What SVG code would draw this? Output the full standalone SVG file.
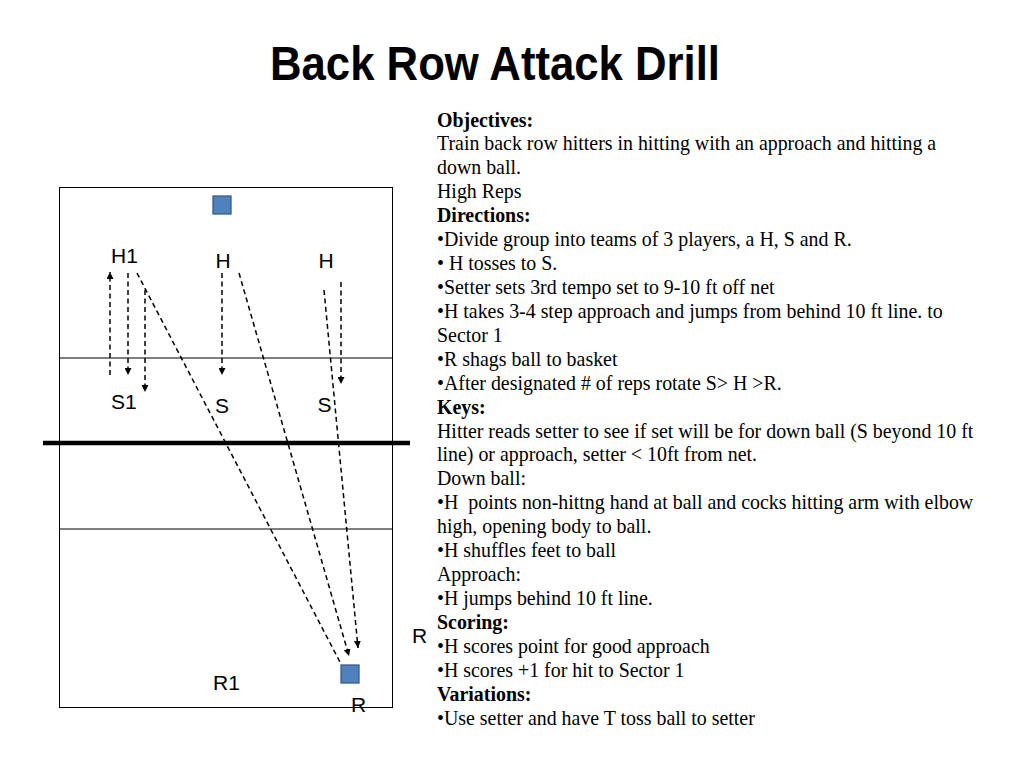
<svg xmlns="http://www.w3.org/2000/svg" width="1024" height="768" viewBox="0 0 1024 768">
<defs>
<marker id="ah" viewBox="0 0 10 10" refX="10" refY="5" markerWidth="7" markerHeight="7" markerUnits="userSpaceOnUse" orient="auto">
<path d="M0,0 L10,5 L0,10 z" fill="#000"/>
</marker>
<style>
.title{font-family:"Liberation Sans",Arial,sans-serif;font-weight:bold;font-size:48px;fill:#000}
.lbl{font-family:"Liberation Sans",Arial,sans-serif;font-size:21px;fill:#000}
.txt{font-family:"Liberation Serif","Times New Roman",serif;font-size:19.9px;fill:#000}
.b{font-weight:bold}
.court{fill:none;stroke:#000;stroke-width:1}
.dash{fill:none;stroke:#000;stroke-width:1.5;stroke-dasharray:5,3.5}
.arr{marker-end:url(#ah)}
.sq{fill:#4F81BD;stroke:#385D8A;stroke-width:1.3}
</style>
</defs>
<rect width="1024" height="768" fill="#fff"/>
<text class="title" x="495" y="80" text-anchor="middle" textLength="450" lengthAdjust="spacingAndGlyphs">Back Row Attack Drill</text>

<g id="court">
<rect class="court" x="59.5" y="187.5" width="333" height="520"/>
<line class="court" x1="59.5" y1="358" x2="392.5" y2="358" stroke="#333"/>
<line class="court" x1="59.5" y1="529" x2="392.5" y2="529" stroke="#333"/>
<line x1="43" y1="443" x2="410" y2="443" stroke="#000" stroke-width="4.5"/>
</g>

<g id="ball-top"><rect class="sq" x="213" y="196" width="18" height="18"/></g>
<g id="basket"><rect class="sq" x="341" y="665" width="18" height="18"/></g>

<g id="node-H1"><text class="lbl" x="111" y="263">H1</text></g>
<g id="node-H2"><text class="lbl" x="215.5" y="268">H</text></g>
<g id="node-H3"><text class="lbl" x="318.5" y="268">H</text></g>
<g id="node-S1"><text class="lbl" x="111" y="409">S1</text></g>
<g id="node-S2"><text class="lbl" x="215" y="413">S</text></g>
<g id="node-S3"><text class="lbl" x="317.5" y="412">S</text></g>
<g id="node-R-side"><text class="lbl" x="412" y="643">R</text></g>
<g id="node-R1"><text class="lbl" x="213" y="690">R1</text></g>
<g id="node-R"><text class="lbl" x="351" y="712">R</text></g>

<g id="connectors">
<line class="dash arr" x1="110" y1="375" x2="110" y2="272"/>
<line class="dash arr" x1="128" y1="273" x2="128" y2="375"/>
<line class="dash arr" x1="145" y1="290" x2="145" y2="392"/>
<line class="dash arr" x1="222" y1="273" x2="222" y2="375"/>
<line class="dash arr" x1="341" y1="282" x2="341" y2="384"/>
<line class="dash" x1="137" y1="273" x2="341" y2="664"/>
<line class="dash arr" x1="239" y1="273" x2="349" y2="656"/>
<line class="dash arr" x1="324" y1="290" x2="358" y2="648"/>
</g>

<g id="notes" class="txt">
<text x="437" y="126.5" class="b">Objectives:</text>
<text x="437" y="150.4">Train back row hitters in hitting with an approach and hitting a</text>
<text x="437" y="174.3">down ball.</text>
<text x="437" y="198.3">High Reps</text>
<text x="437" y="222.2" class="b">Directions:</text>
<text x="437" y="246.1">•Divide group into teams of 3 players, a H, S and R.</text>
<text x="437" y="270">• H tosses to S.</text>
<text x="437" y="294">•Setter sets 3rd tempo set to 9-10 ft off net</text>
<text x="437" y="317.9">•H takes 3-4 step approach and jumps from behind 10 ft line. to</text>
<text x="437" y="341.8">Sector 1</text>
<text x="437" y="365.7">•R shags ball to basket</text>
<text x="437" y="389.6">•After designated # of reps rotate S&gt; H &gt;R.</text>
<text x="437" y="413.5" class="b">Keys:</text>
<text x="437" y="437.5">Hitter reads setter to see if set will be for down ball (S beyond 10 ft</text>
<text x="437" y="461.4">line) or approach, setter &lt; 10ft from net.</text>
<text x="437" y="485.3">Down ball:</text>
<text x="437" y="509.2" xml:space="preserve">•H  points non-hittng hand at ball and cocks hitting arm with elbow</text>
<text x="437" y="533.1">high, opening body to ball.</text>
<text x="437" y="557">•H shuffles feet to ball</text>
<text x="437" y="581">Approach:</text>
<text x="437" y="604.9">•H jumps behind 10 ft line.</text>
<text x="437" y="628.8" class="b">Scoring:</text>
<text x="437" y="652.7">•H scores point for good approach</text>
<text x="437" y="676.6">•H scores +1 for hit to Sector 1</text>
<text x="437" y="700.5" class="b">Variations:</text>
<text x="437" y="724.5">•Use setter and have T toss ball to setter</text>
</g>
</svg>
